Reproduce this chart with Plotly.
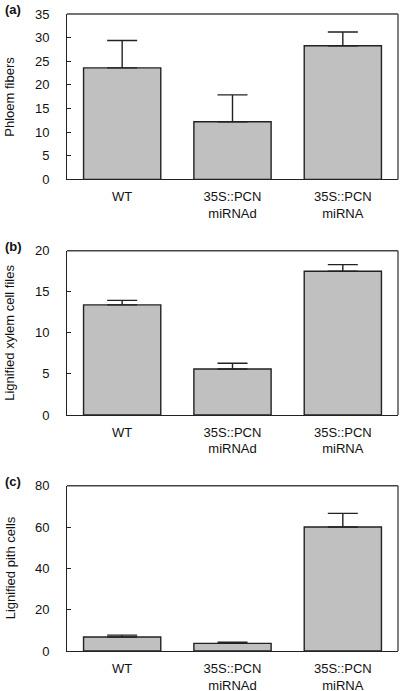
import plotly.graph_objects as go
from plotly.subplots import make_subplots

categories = ["WT", "35S::PCN<br>miRNAd", "35S::PCN<br>miRNA"]

phloem_fibers = [23.6, 12.2, 28.3]
phloem_err = [5.8, 5.7, 2.9]

xylem_files = [13.4, 5.6, 17.5]
xylem_err = [0.55, 0.7, 0.8]

pith_cells = [6.8, 3.7, 60.0]
pith_err = [0.9, 0.5, 6.6]

panel_labels = ["(a)", "(b)", "(c)"]
y_titles = ["Phloem fibers", "Lignified xylem cell files", "Lignified pith cells"]
y_ranges = [[0, 35], [0, 20], [0, 80]]
y_dticks = [5, 5, 20]

values = [phloem_fibers, xylem_files, pith_cells]
errors = [phloem_err, xylem_err, pith_err]

FONT = "Liberation Sans, Arial, sans-serif"

fig = make_subplots(rows=3, cols=1)

for i in range(3):
    fig.add_trace(
        go.Bar(
            x=categories,
            y=values[i],
            marker=dict(color="#c0c0c0", line=dict(color="#222222", width=1.4)),
            error_y=dict(
                type="data",
                symmetric=False,
                array=errors[i],
                arrayminus=[0, 0, 0],
                color="#222222",
                thickness=1.4,
                width=15,
            ),
            showlegend=False,
        ),
        row=i + 1,
        col=1,
    )

domains = [[0.7402, 1.0], [0.3705, 0.6284], [0.0, 0.2595]]
label_shift = [5, 4, 4]
for i in range(3):
    n = "" if i == 0 else str(i + 1)
    fig.layout["yaxis" + n].update(
        domain=domains[i],
        range=y_ranges[i],
        dtick=y_dticks[i],
        ticks="inside",
        ticklen=4,
        tickcolor="#222222",
        showline=True,
        linecolor="#222222",
        linewidth=1,
        showgrid=False,
        zeroline=False,
        automargin=False,
        tickfont=dict(family=FONT, size=13, color="#111111"),
        ticklabelstandoff=14,
    )
    fig.layout["xaxis" + n].update(
        range=[-0.5, 2.5],
        showline=True,
        linecolor="#222222",
        linewidth=1,
        showgrid=False,
        ticks="",
        automargin=False,
        tickfont=dict(family=FONT, size=13, color="#111111"),
        ticklabelstandoff=5,
    )
    xd = "x" + n + " domain"
    yd = "y" + n + " domain"
    fig.add_shape(type="line", xref=xd, yref=yd, x0=0, x1=1, y0=1, y1=1,
                  line=dict(color="#444444", width=1.5))
    fig.add_shape(type="line", xref=xd, yref=yd, x0=1, x1=1, y0=0, y1=1,
                  line=dict(color="#555555", width=1.5))
    # y-axis title
    fig.add_annotation(
        xref="paper", yref="paper",
        x=0, y=(domains[i][0] + domains[i][1]) / 2,
        xshift=-57, xanchor="center", yanchor="middle",
        text=y_titles[i], textangle=-90, showarrow=False,
        font=dict(family=FONT, size=13, color="#111111"),
    )
    # panel label
    fig.add_annotation(
        xref="paper", yref="paper",
        x=0, y=domains[i][1],
        xshift=-64, yshift=label_shift[i], xanchor="left", yanchor="middle",
        text="<b>" + panel_labels[i] + "</b>", showarrow=False,
        font=dict(family=FONT, size=13, color="#111111"),
    )

fig.update_layout(
    width=402,
    height=691,
    margin=dict(l=67, r=4, t=14, b=40),
    paper_bgcolor="white",
    plot_bgcolor="white",
    bargap=0.3,
)

fig.write_html(
    "out.html",
    config={"displayModeBar": False},
    post_script="document.body.style.margin='0';",
)
